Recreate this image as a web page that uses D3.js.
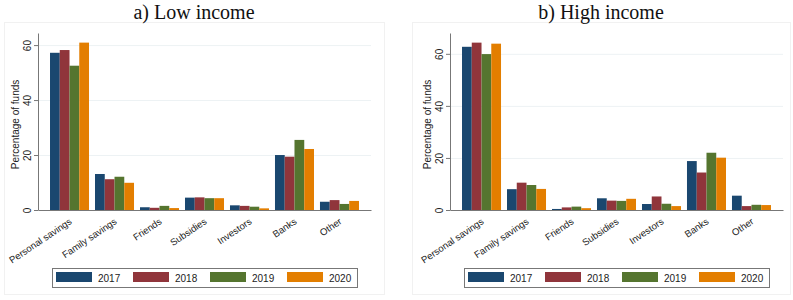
<!DOCTYPE html>
<html>
<head>
<meta charset="utf-8">
<script src="https://cdn.jsdelivr.net/npm/d3@7"></script>
<style>
  body { margin: 0; background: #fff; }
  svg { display: block; }
</style>
</head>
<body>
<div id="chart"></div>
<script>
// data
const categories = ["Personal savings", "Family savings", "Friends", "Subsidies", "Investors", "Banks", "Other"];
const years = ["2017", "2018", "2019", "2020"];
const colors = ["#1a476f", "#90353b", "#55752f", "#e37e00"];

const low2017 = [57.2, 13.1, 1.0, 4.5, 1.7, 20.0, 3.0];
const low2018 = [58.2, 11.2, 0.8, 4.6, 1.5, 19.4, 3.6];
const low2019 = [52.5, 12.1, 1.5, 4.3, 1.2, 25.5, 2.2];
const low2020 = [60.9, 9.9, 0.7, 4.3, 0.6, 22.2, 3.3];

const high2017 = [62.7, 8.0, 0.4, 4.5, 2.3, 18.8, 5.5];
const high2018 = [64.3, 10.5, 1.0, 3.6, 5.2, 14.4, 1.5];
const high2019 = [59.9, 9.6, 1.3, 3.5, 2.4, 22.0, 2.0];
const high2020 = [63.9, 8.1, 0.7, 4.3, 1.5, 20.1, 1.9];

const yTicks = [0, 20, 40, 60];

const W = 793, H = 300;

const svg = d3.select("#chart")
    .append("svg")
    .attr("width", W)
    .attr("height", H);

function drawPanel(opt) {
    const g = svg.append("g");
    const series = opt.series;

    // faint panel frame
    g.append("rect")
        .attr("x", opt.frame[0] + 0.5)
        .attr("y", 22.5)
        .attr("width", opt.frame[1] - opt.frame[0])
        .attr("height", 272)
        .attr("fill", "none")
        .attr("stroke", "#f1f1f1");

    // title
    g.append("text")
        .attr("x", (opt.frame[0] + opt.frame[1]) / 2)
        .attr("y", 18.5)
        .attr("text-anchor", "middle")
        .attr("font-family", "Liberation Serif, serif")
        .attr("font-size", "20px")
        .attr("fill", "#111")
        .text(opt.title);

    const x = d3.scaleBand()
        .domain(categories)
        .range([opt.left, opt.right])
        .paddingInner(0.133)
        .paddingOuter(0.267);

    const xInner = d3.scaleBand()
        .domain(years)
        .range([0, x.bandwidth()]);

    const y = d3.scaleLinear()
        .domain([0, opt.yMax])
        .range([210, 33]);

    // gridlines
    g.append("g")
        .selectAll("line")
        .data(yTicks.filter(t => t > 0))
        .enter()
        .append("line")
        .attr("x1", opt.left)
        .attr("x2", opt.right)
        .attr("y1", d => y(d) + 0.5)
        .attr("y2", d => y(d) + 0.5)
        .attr("stroke", "#edf2f4");

    // bars
    years.forEach((yr, i) => {
        g.append("g")
            .selectAll("rect")
            .data(series[i])
            .enter()
            .append("rect")
            .attr("x", (d, j) => x(categories[j]) + xInner(yr))
            .attr("y", d => y(d))
            .attr("width", xInner.bandwidth())
            .attr("height", d => y(0) - y(d))
            .attr("fill", colors[i]);
    });

    // y axis
    const yAxis = g.append("g")
        .attr("transform", `translate(${opt.left},0)`)
        .call(d3.axisLeft(y).tickValues(yTicks).tickSize(4).tickSizeOuter(0));
    yAxis.select(".domain").attr("stroke", "#777");
    yAxis.selectAll(".tick line").attr("stroke", "#777");
    yAxis.selectAll(".tick text")
        .attr("font-family", "Liberation Sans, Arial, sans-serif")
        .attr("font-size", "10px")
        .attr("fill", "#222")
        .attr("x", null)
        .attr("dy", null)
        .attr("text-anchor", "middle")
        .attr("transform", "translate(-7,0) rotate(-90)");

    // x axis
    const xAxis = g.append("g")
        .attr("transform", `translate(0,210)`)
        .call(d3.axisBottom(x).tickSize(0).tickSizeOuter(0));
    xAxis.select(".domain").attr("stroke", "#777");
    xAxis.selectAll(".tick text")
        .attr("font-family", "Liberation Sans, Arial, sans-serif")
        .attr("font-size", "9.6px")
        .attr("fill", "#222")
        .attr("y", null)
        .attr("dy", null)
        .attr("text-anchor", "end")
        .attr("transform", "translate(3,13) rotate(-34)");

    // y label
    g.append("text")
        .attr("transform", `translate(${opt.left - 19},${(33 + 210) / 2 + 3}) rotate(-90)`)
        .attr("text-anchor", "middle")
        .attr("font-family", "Liberation Sans, Arial, sans-serif")
        .attr("font-size", "10px")
        .attr("fill", "#222")
        .text("Percentage of funds");

    // legend
    const lg = g.append("g")
        .attr("transform", `translate(${opt.left + 14},268)`);
    lg.append("rect")
        .attr("x", 0.5)
        .attr("y", 0.5)
        .attr("width", 305)
        .attr("height", 19)
        .attr("fill", "#fff")
        .attr("stroke", "#777");
    const item = lg.selectAll(".item")
        .data(years)
        .enter()
        .append("g")
        .attr("transform", (d, i) => `translate(${4 + i * 77},4)`);
    item.append("rect")
        .attr("width", 36)
        .attr("height", 10)
        .attr("fill", (d, i) => colors[i]);
    item.append("text")
        .attr("x", 42)
        .attr("y", 9.5)
        .attr("font-family", "Liberation Sans, Arial, sans-serif")
        .attr("font-size", "10px")
        .attr("fill", "#222")
        .text(d => d);
}

drawPanel({
    title: "a) Low income",
    series: [low2017, low2018, low2019, low2020],
    left: 38, right: 371, yMax: 64.4, frame: [4, 384]
});

drawPanel({
    title: "b) High income",
    series: [high2017, high2018, high2019, high2020],
    left: 450, right: 783, yMax: 68, frame: [412, 790]
});
</script>
</body>
</html>
